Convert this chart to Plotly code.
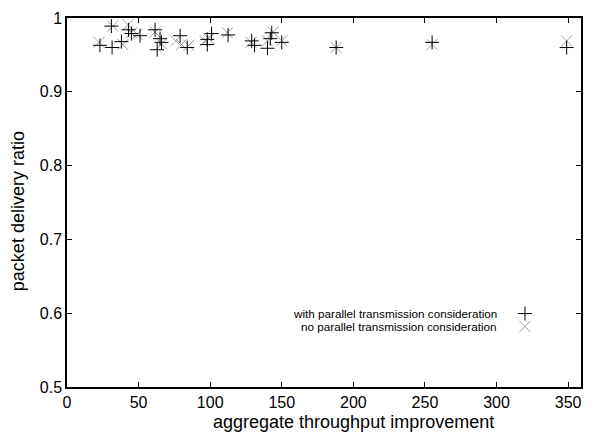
import plotly.graph_objects as go

# with parallel transmission consideration (+)
with_x = [23, 31, 31.5, 38, 43, 45, 51, 61.5, 63, 65, 66, 79, 84, 98, 98, 101, 112.5, 129, 131, 140, 142, 143, 150, 188, 255, 349]
with_y = [0.963, 0.989, 0.960, 0.968, 0.984, 0.979, 0.976, 0.984, 0.957, 0.972, 0.967, 0.976, 0.960, 0.971, 0.964, 0.979, 0.977, 0.969, 0.963, 0.959, 0.972, 0.980, 0.967, 0.960, 0.967, 0.960]

# no parallel transmission consideration (x)
no_x = [22.4, 32, 42.6, 39, 45, 49, 61.5, 66, 76, 80, 85, 96.5, 99, 112, 128.5, 140, 144, 150, 188, 255, 349]
no_y = [0.967, 0.989, 0.991, 0.964, 0.980, 0.978, 0.981, 0.965, 0.969, 0.964, 0.963, 0.969, 0.972, 0.980, 0.967, 0.969, 0.981, 0.969, 0.960, 0.964, 0.969]

x_ticks = [0, 50, 100, 150, 200, 250, 300, 350]
y_ticks = [0.5, 0.6, 0.7, 0.8, 0.9, 1.0]
y_tick_text = ["0.5", "0.6", "0.7", "0.8", "0.9", "1"]

labels = ["with parallel transmission consideration", "no parallel transmission consideration"]
x_title = "aggregate throughput improvement"
y_title = "packet delivery ratio"

FONT = "Liberation Sans, Arial, Helvetica, sans-serif"
GRAY = "#a0a0a0"

plus_marker = dict(symbol="cross-thin-open", size=10, color="black", line=dict(color="black", width=1))
x_marker = dict(symbol="x-thin-open", size=11, color=GRAY, line=dict(color=GRAY, width=1))

fig = go.Figure()
fig.add_trace(go.Scatter(x=no_x, y=no_y, mode="markers", name=labels[1],
                         marker=x_marker, showlegend=False))
fig.add_trace(go.Scatter(x=with_x, y=with_y, mode="markers", name=labels[0],
                         marker=plus_marker, showlegend=False))

# legend samples on an overlay axis (0..1)
leg_sym_x = 0.891
leg_y = [0.199, 0.164]
fig.add_trace(go.Scatter(x=[leg_sym_x], y=[leg_y[0]], xaxis="x2", yaxis="y2", mode="markers",
                         marker=plus_marker, showlegend=False, hoverinfo="skip"))
fig.add_trace(go.Scatter(x=[leg_sym_x], y=[leg_y[1]], xaxis="x2", yaxis="y2", mode="markers",
                         marker=x_marker, showlegend=False, hoverinfo="skip"))

for lab, yy in zip(labels, leg_y):
    fig.add_annotation(text=lab, xref="paper", yref="paper", x=0.840, y=yy,
                       xanchor="right", yanchor="middle", showarrow=False,
                       font=dict(family=FONT, size=11.7, color="black"))

# axis titles
fig.add_annotation(text=x_title, xref="paper", yref="paper", x=0.558, y=-0.096,
                   xanchor="center", yanchor="middle", showarrow=False,
                   font=dict(family=FONT, size=18, color="black"))
fig.add_annotation(text=y_title, xref="paper", yref="paper", x=-0.095, y=0.477,
                   xanchor="center", yanchor="middle", showarrow=False, textangle=-90,
                   font=dict(family=FONT, size=18, color="black"))

axis_common = dict(showgrid=False, zeroline=False, showline=True, linecolor="black", linewidth=1.5,
                   mirror="allticks", ticks="inside", ticklen=5, tickwidth=1.2, tickcolor="black",
                   tickfont=dict(family=FONT, size=16, color="black"))

fig.update_layout(
    width=596, height=436,
    margin=dict(l=67, r=15, t=10, b=49),
    paper_bgcolor="white", plot_bgcolor="white",
    xaxis=dict(range=[0, 359], tickvals=x_ticks, **axis_common),
    yaxis=dict(range=[0.5, 1.0], tickvals=y_ticks, ticktext=y_tick_text, **axis_common),
    xaxis2=dict(range=[0, 1], overlaying="x", visible=False, anchor="y2"),
    yaxis2=dict(range=[0, 1], overlaying="y", visible=False, anchor="x2"),
    showlegend=False,
)

fig.write_html("out.html")
